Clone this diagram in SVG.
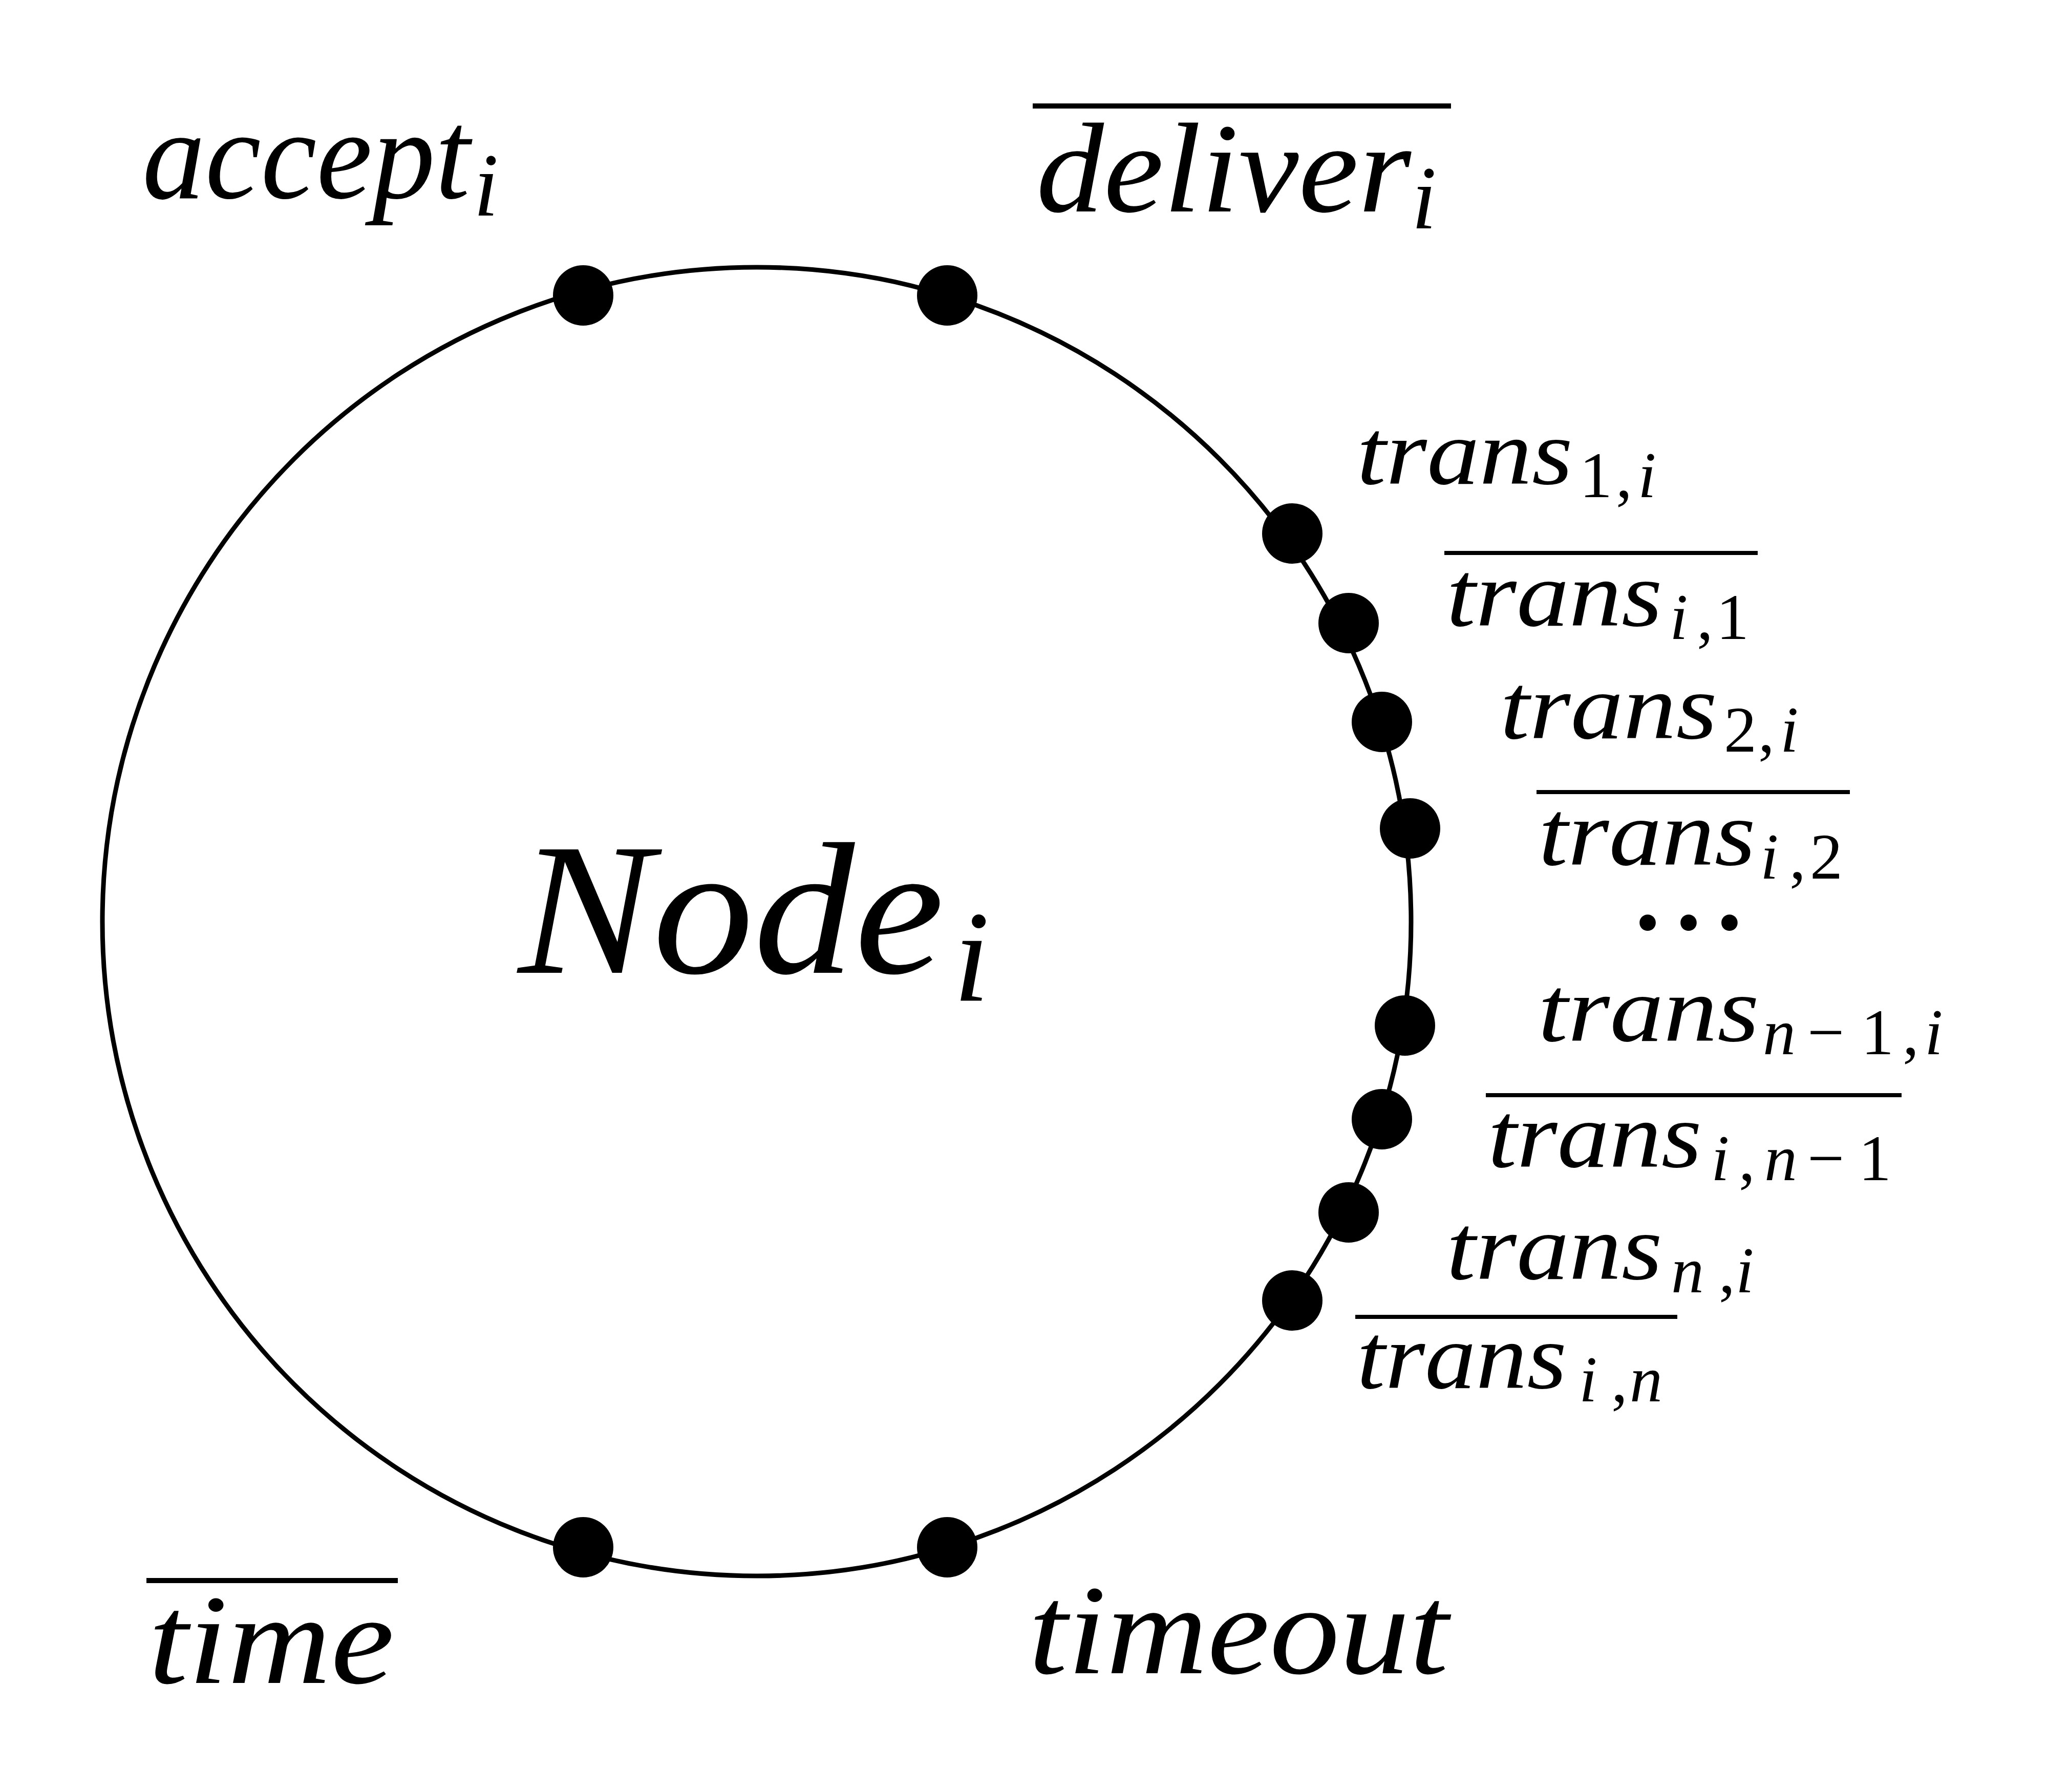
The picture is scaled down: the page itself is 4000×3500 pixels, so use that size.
<svg xmlns="http://www.w3.org/2000/svg" width="4000" height="3500" viewBox="0 0 4000 3500">
<style>
.lbl{font-family:"Liberation Serif","Times New Roman",serif;font-style:italic;fill:#000}
.big{font-size:250px}
.sub{font-size:175px}
.tr{font-size:182px}
.trs{font-size:128px}
.up{font-style:normal}
.bar{stroke:#000;stroke-width:8}
.bbar{stroke:#000;stroke-width:10}
.dot{fill:#000}
.ring{fill:none;stroke:#000;stroke-width:9}
</style>
<rect width="4000" height="3500" fill="#fff"/>
<g id="node-i">
<circle class="ring" cx="1478" cy="1800" r="1278"/>
<text class="lbl" x="1012" y="1900" font-size="368"><tspan textLength="832" lengthAdjust="spacingAndGlyphs">Node</tspan><tspan x="1862" y="1955" font-size="255">i</tspan></text>
</g>
<g id="port-accept">
<circle class="dot" cx="1139" cy="577" r="59"/>
<text class="lbl big" x="278" y="387"><tspan textLength="640" lengthAdjust="spacingAndGlyphs">accept</tspan><tspan class="sub" x="925" y="421">i</tspan></text>
</g>
<g id="port-deliver">
<circle class="dot" cx="1850" cy="577" r="59"/>
<line class="bbar" x1="2017" y1="207" x2="2834" y2="207"/>
<text class="lbl big" x="2024" y="413"><tspan textLength="732" lengthAdjust="spacingAndGlyphs">deliver</tspan><tspan class="sub" x="2757" y="446">i</tspan></text>
</g>
<g id="port-time">
<circle class="dot" cx="1139" cy="3022" r="59"/>
<line class="bbar" x1="286" y1="3087" x2="777" y2="3087"/>
<text class="lbl big" x="290" y="3287" textLength="480" lengthAdjust="spacingAndGlyphs">time</text>
</g>
<g id="port-timeout">
<circle class="dot" cx="1850" cy="3022" r="59"/>
<text class="lbl big" x="2009" y="3268" textLength="820" lengthAdjust="spacingAndGlyphs">timeout</text>
</g>
<g id="port-trans-1-i">
<circle class="dot" cx="2524" cy="1042" r="59"/>
<text class="lbl tr" x="2650" y="945"><tspan textLength="422" lengthAdjust="spacingAndGlyphs">trans</tspan><tspan class="trs up" x="3085" y="971">1</tspan><tspan class="trs up" x="3156">,</tspan><tspan class="trs" x="3199">i</tspan></text>
</g>
<g id="port-trans-i-1">
<circle class="dot" cx="2634" cy="1217" r="59"/>
<line class="bar" x1="2821" y1="1080" x2="3433" y2="1080"/>
<text class="lbl tr" x="2825" y="1222"><tspan textLength="422" lengthAdjust="spacingAndGlyphs">trans</tspan><tspan class="trs" x="3261" y="1248">i</tspan><tspan class="trs up" x="3314">,</tspan><tspan class="trs up" x="3352">1</tspan></text>
</g>
<g id="port-trans-2-i">
<circle class="dot" cx="2699" cy="1410" r="59"/>
<text class="lbl tr" x="2930" y="1442"><tspan textLength="424" lengthAdjust="spacingAndGlyphs">trans</tspan><tspan class="trs up" x="3367" y="1468">2</tspan><tspan class="trs up" x="3434">,</tspan><tspan class="trs" x="3477">i</tspan></text>
</g>
<g id="port-trans-i-2">
<circle class="dot" cx="2754" cy="1618" r="59"/>
<line class="bar" x1="3001" y1="1547" x2="3613" y2="1547"/>
<text class="lbl tr" x="3005" y="1689"><tspan textLength="424" lengthAdjust="spacingAndGlyphs">trans</tspan><tspan class="trs" x="3438" y="1716">i</tspan><tspan class="trs up" x="3495">,</tspan><tspan class="trs up" x="3535">2</tspan></text>
</g>
<g id="ellipsis">
<text x="3298" y="1893" text-anchor="middle" font-family="'Noto Sans CJK SC', sans-serif" font-size="240">⋯</text>
</g>
<g id="port-trans-n1-i">
<circle class="dot" cx="2744" cy="2003" r="59"/>
<text class="lbl tr" x="3004" y="2033"><tspan textLength="432" lengthAdjust="spacingAndGlyphs">trans</tspan><tspan class="trs" x="3443" y="2059">n</tspan><tspan class="trs up" x="3530">−</tspan><tspan class="trs up" x="3635">1</tspan><tspan class="trs up" x="3716">,</tspan><tspan class="trs" x="3759">i</tspan></text>
</g>
<g id="port-trans-i-n1">
<circle class="dot" cx="2699" cy="2186" r="59"/>
<line class="bar" x1="2902" y1="2139" x2="3714" y2="2139"/>
<text class="lbl tr" x="2906" y="2279"><tspan textLength="418" lengthAdjust="spacingAndGlyphs">trans</tspan><tspan class="trs" x="3342" y="2305">i</tspan><tspan class="trs up" x="3396">,</tspan><tspan class="trs" x="3446">n</tspan><tspan class="trs up" x="3530">−</tspan><tspan class="trs up" x="3630">1</tspan></text>
</g>
<g id="port-trans-n-i">
<circle class="dot" cx="2634" cy="2368" r="59"/>
<text class="lbl tr" x="2825" y="2498"><tspan textLength="422" lengthAdjust="spacingAndGlyphs">trans</tspan><tspan class="trs" x="3264" y="2524">n</tspan><tspan class="trs up" x="3357">,</tspan><tspan class="trs" x="3390">i</tspan></text>
</g>
<g id="port-trans-i-n">
<circle class="dot" cx="2524" cy="2540" r="59"/>
<line class="bar" x1="2647" y1="2572" x2="3276" y2="2572"/>
<text class="lbl tr" x="2650" y="2711"><tspan textLength="410" lengthAdjust="spacingAndGlyphs">trans</tspan><tspan class="trs" x="3084" y="2737">i</tspan><tspan class="trs up" x="3147">,</tspan><tspan class="trs" x="3183">n</tspan></text>
</g>
</svg>
